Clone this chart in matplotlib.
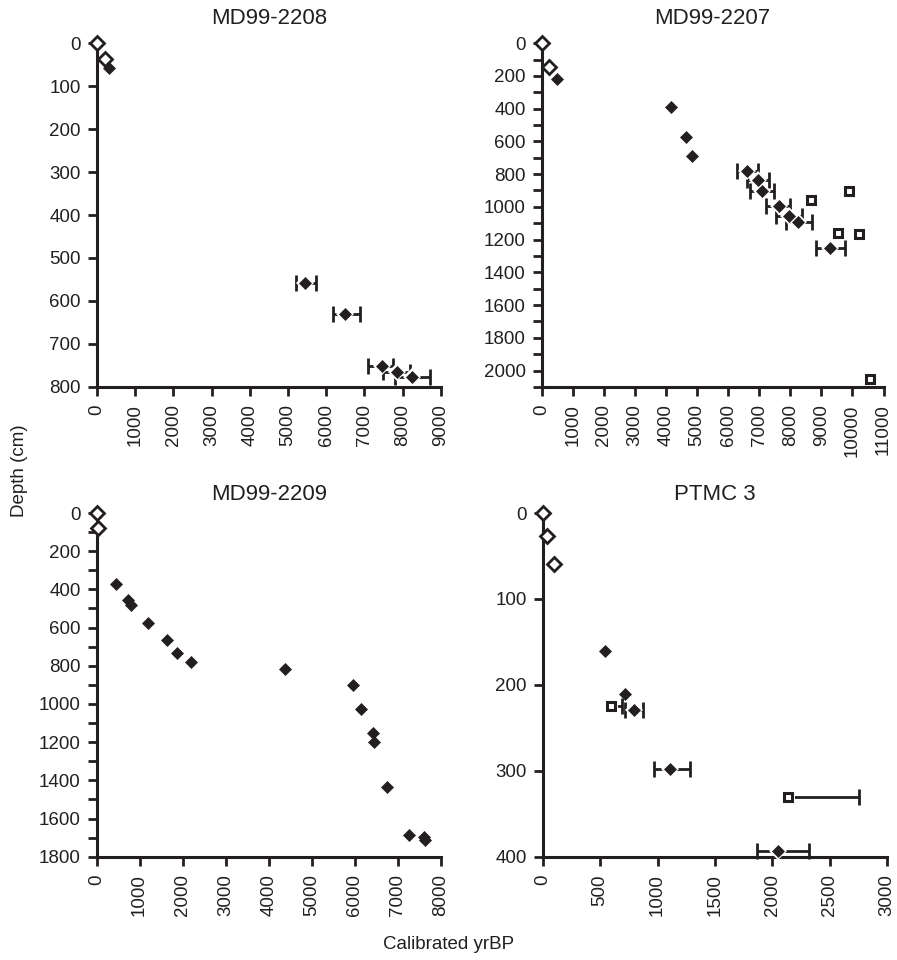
import matplotlib
matplotlib.use("Agg")
import matplotlib.pyplot as plt
from matplotlib.ticker import MultipleLocator

plt.rcParams['font.family'] = ['Liberation Sans', 'DejaVu Sans']

INK = '#231f20'

# ---- MD99-2208 ----
a_open_x = [0, 210]
a_open_d = [0, 37]
a_fill_x = [310]
a_fill_d = [58]
a_err_x = [5450, 6500, 7450, 7850, 8250]
a_err_d = [558, 630, 751, 765, 778]
a_err_lo = [5200, 6180, 7090, 7480, 7800]
a_err_hi = [5740, 6880, 7760, 8200, 8720]

# ---- MD99-2207 ----
b_open_x = [0, 235]
b_open_d = [0, 145]
b_fill_x = [492, 4150, 4650, 4845]
b_fill_d = [220, 388, 574, 690]
b_err_x = [6610, 6950, 7080, 7630, 7950, 8260, 9280]
b_err_d = [778, 835, 902, 992, 1053, 1094, 1253]
b_err_lo = [6280, 6610, 6710, 7225, 7545, 7845, 8810]
b_err_hi = [6955, 7300, 7460, 8005, 8370, 8690, 9765]
b_sq_x = [8660, 9880, 9550, 10200, 10580]
b_sq_d = [961, 902, 1157, 1166, 2053]

# ---- MD99-2209 ----
c_open_x = [0, 40]
c_open_d = [0, 81]
c_fill_x = [446, 725, 802, 1205, 1647, 1865, 2191, 4384, 5958, 6151,
            6423, 6447, 6756, 7251, 7600, 7620]
c_fill_d = [370, 455, 484, 576, 665, 733, 779, 819, 903, 1029,
            1152, 1197, 1437, 1688, 1697, 1712]

# ---- PTMC 3 ----
d_open_x = [0, 38, 96]
d_open_d = [0, 27, 59]
d_fill_x = [546, 720]
d_fill_d = [161, 211]
d_err_x = [799, 1110, 2053]
d_err_d = [229, 298, 393]
d_err_lo = [720, 967, 1868]
d_err_hi = [877, 1287, 2323]
d_sq_x = [596, 2134]
d_sq_d = [225, 331]
d_sq_hi = [692, 2758]


fig = plt.figure(figsize=(8.97, 9.6), dpi=100)

boxes = [
    [0.108, 0.597, 0.3835, 0.358],
    [0.604, 0.597, 0.381, 0.358],
    [0.1076, 0.1076, 0.384, 0.358],
    [0.605, 0.1076, 0.384, 0.358],
]
titles = ['MD99-2208', 'MD99-2207', 'MD99-2209', 'PTMC 3']
title_y = [0.981, 0.981, 0.485, 0.485]
xlims = [(0, 9000), (0, 11000), (0, 8000), (0, 3000)]
xsteps = [1000, 1000, 1000, 500]
ylims = [(0, 800), (0, 2100), (0, 1800), (0, 400)]
ysteps = [100, 200, 200, 100]
yminor = [None, 100, 100, None]


def style(ax, i):
    ax.set_xlim(*xlims[i])
    ax.set_ylim(ylims[i][1], ylims[i][0])
    for s in ['top', 'right']:
        ax.spines[s].set_visible(False)
    for s in ['left', 'bottom']:
        ax.spines[s].set_linewidth(2.2)
        ax.spines[s].set_color(INK)
    ax.xaxis.set_major_locator(MultipleLocator(xsteps[i]))
    ax.yaxis.set_major_locator(MultipleLocator(ysteps[i]))
    if yminor[i]:
        ax.yaxis.set_minor_locator(MultipleLocator(yminor[i]))
        ax.tick_params(axis='y', which='minor', length=6.5, width=2, color=INK)
    ax.tick_params(which='major', length=6.5, width=2, color=INK,
                   labelsize=13.5, labelcolor=INK, pad=5)
    ax.tick_params(axis='x', labelrotation=90, pad=6)
    if i == 1:
        ax.set_yticks(range(0, 2001, 200))
    ax.set_facecolor('none')


def err(ax, x, d, lo, hi):
    xe = [[xx - l for xx, l in zip(x, lo)], [h - xx for xx, h in zip(x, hi)]]
    ax.errorbar(x, d, xerr=xe, fmt='none', ecolor=INK, elinewidth=2,
                capsize=6, capthick=2, clip_on=False, zorder=2)


def err_right(ax, x, d, hi):
    # only the older side of the range is drawn for these samples
    xe = [[0] * len(x), [h - xx for xx, h in zip(x, hi)]]
    _, caps, _ = ax.errorbar(x, d, xerr=xe, fmt='none', ecolor=INK, elinewidth=2,
                             capsize=6, capthick=2, clip_on=False, zorder=2)
    caps[0].set_visible(False)


def fill(ax, x, d, edge=False):
    if edge:
        # white halo leaves a gap between marker and error bar
        ax.plot(x, d, 'D', ms=9.5, color='white', mew=0, clip_on=False, zorder=3)
    ax.plot(x, d, 'D', ms=6.5, color=INK, mec=INK, mew=0.5,
            clip_on=False, zorder=4)


def open_d(ax, x, d):
    ax.plot(x, d, 'D', ms=7, mfc='white', mec=INK, mew=2, clip_on=False, zorder=5)


def square(ax, x, d):
    ax.plot(x, d, 's', ms=6, mfc='white', mec=INK, mew=2.2, clip_on=False, zorder=4)


axes = []
for i, b in enumerate(boxes):
    ax = fig.add_axes(b)
    style(ax, i)
    fig.text(b[0] + b[2] / 2, title_y[i], titles[i], ha='center', va='center',
             fontsize=16, color=INK)
    axes.append(ax)

# MD99-2208
ax = axes[0]
err(ax, a_err_x, a_err_d, a_err_lo, a_err_hi)
fill(ax, a_err_x, a_err_d, edge=True)
fill(ax, a_fill_x, a_fill_d)
open_d(ax, a_open_x, a_open_d)

# MD99-2207
ax = axes[1]
err(ax, b_err_x, b_err_d, b_err_lo, b_err_hi)
fill(ax, b_err_x, b_err_d, edge=True)
fill(ax, b_fill_x, b_fill_d)
square(ax, b_sq_x, b_sq_d)
open_d(ax, b_open_x, b_open_d)

# MD99-2209
ax = axes[2]
fill(ax, c_fill_x, c_fill_d)
open_d(ax, c_open_x, c_open_d)

# PTMC 3
ax = axes[3]
err(ax, d_err_x, d_err_d, d_err_lo, d_err_hi)
err_right(ax, d_sq_x, d_sq_d, d_sq_hi)
fill(ax, d_err_x, d_err_d, edge=True)
fill(ax, d_fill_x, d_fill_d)
ax.plot(d_sq_x, d_sq_d, 's', ms=9.5, color='white', mew=0, clip_on=False, zorder=3)
square(ax, d_sq_x, d_sq_d)
open_d(ax, d_open_x, d_open_d)

fig.text(0.022, 0.51, 'Depth (cm)', rotation=90, ha='center', va='center',
         fontsize=13.5, color=INK)
fig.text(0.5, 0.016, 'Calibrated yrBP', ha='center', va='center',
         fontsize=13.5, color=INK)

fig.savefig('out.png', dpi=100, facecolor='white')
